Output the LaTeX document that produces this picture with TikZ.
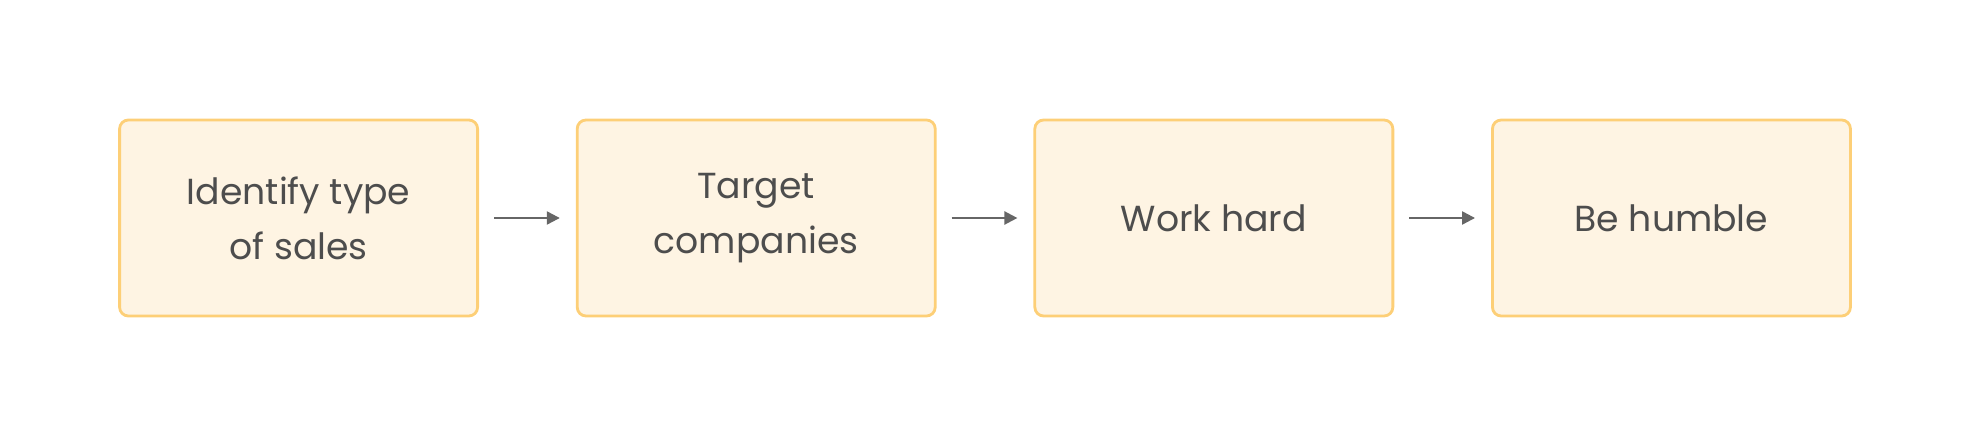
\documentclass[tikz,border=0pt]{standalone}
\usepackage{fontspec}
\setmainfont{Poppins}
\usepackage{xcolor}
\usetikzlibrary{arrows.meta, positioning}
\definecolor{sfill}{HTML}{FEF4E3}
\definecolor{sborder}{HTML}{FDCF77}
\definecolor{stext}{HTML}{4D4D4D}
\definecolor{sarrow}{HTML}{666666}

\tikzset{
  stepbox/.style={draw=sborder, fill=sfill, line width=0.8pt, rounded corners=2.5pt,
    minimum width=3.58cm, minimum height=1.96cm, align=center,
    font=\fontsize{10.3}{15.6}\selectfont, text=stext},
  flow/.style={draw=sarrow, line width=0.65pt, -{Triangle[length=1.3mm, width=1.3mm]},
    shorten <=0.15cm, shorten >=0.16cm}
}

\begin{document}
\begin{tikzpicture}[x=1cm, y=1cm]

  %% canvas
  \useasboundingbox (0,0) rectangle (19.72,4.33);

  %% steps
  \node[stepbox] (identify) at (2.986,2.15) {Identify type\\of sales};
  \node[stepbox, right=0.968cm of identify] (target) {Target\\companies};
  \node[stepbox, right=0.968cm of target] (work) {Work hard};
  \node[stepbox, right=0.968cm of work] (humble) {Be humble};

  %% arrows
  \draw[flow] (identify) -- (target);
  \draw[flow] (target) -- (work);
  \draw[flow] (work) -- (humble);

\end{tikzpicture}
\end{document}
